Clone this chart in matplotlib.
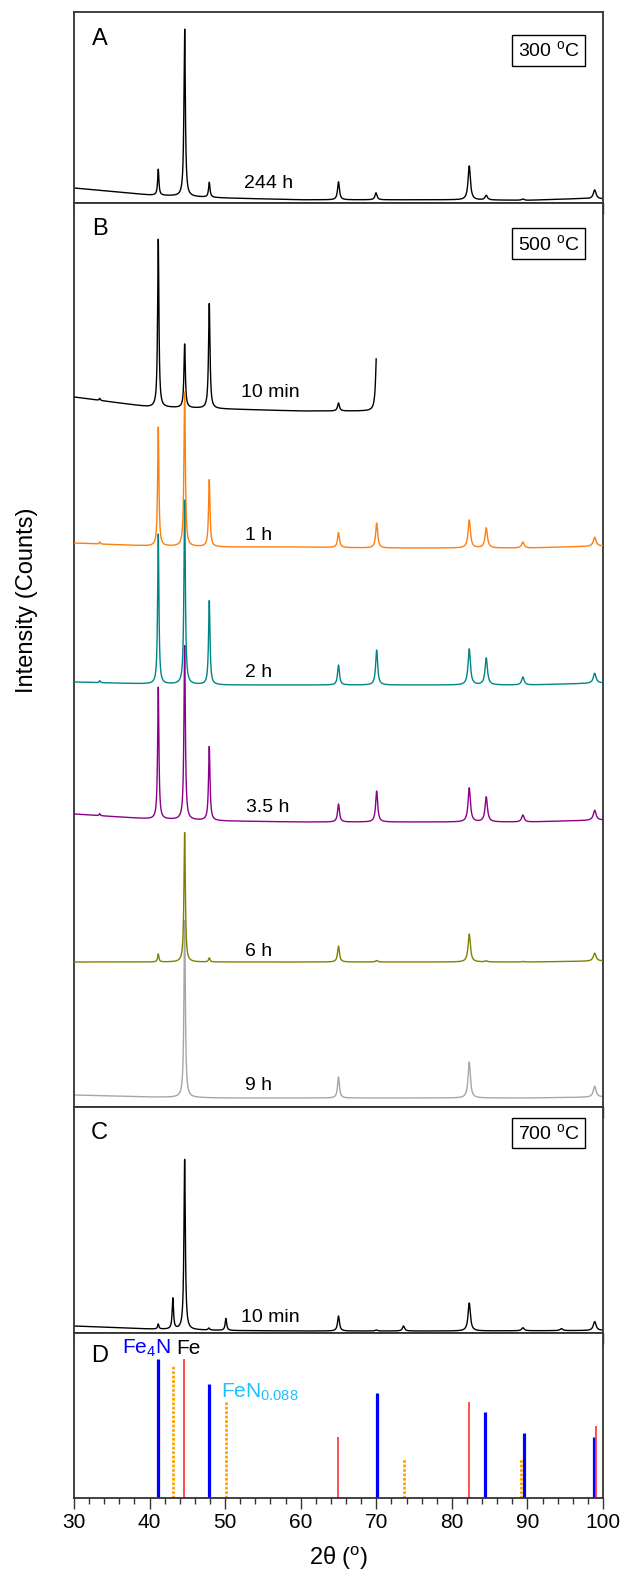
import numpy as np
import matplotlib
matplotlib.use("Agg")
import matplotlib.pyplot as plt

plt.rcParams['font.family'] = ['Liberation Sans', 'DejaVu Sans']
plt.rcParams['mathtext.fontset'] = 'custom'
plt.rcParams['mathtext.rm'] = 'Liberation Sans'
plt.rcParams['mathtext.it'] = 'Liberation Sans:italic'

# ---- diffraction data (2theta in degrees, intensity in counts, stacked offsets) ----
# A: 300 C, 244 h
a_base_x = [30, 40, 50, 60, 80, 90, 97, 100]
a_base_y = [15, 8, 5, 3.2, 3.2, 2.7, 4.4, 4.0]
a_pos = [41.15, 44.64, 47.9, 65.0, 69.96, 82.3, 84.55, 89.4, 98.9]
a_int = [26, 168, 15, 18, 7, 34, 4.6, 1.2, 9]

# B: 500 C time series
b_labels = ['10 min', '1 h', '2 h', '3.5 h', '6 h', '9 h']
b_colors = ['#000000', '#ff7f0e', '#008585', '#8b008b', '#808000', '#a6a6a6']
b_xmax = [70.0, 100, 100, 100, 100, 100]
b_base_x = [30, 40, 50, 60, 70, 80, 90, 100]
b_base_y = [
    [710, 700, 698, 696, 696, 696, 696, 696],
    [564, 561, 560, 560, 559, 559, 559, 561],
    [425, 423, 422, 422, 422, 422, 422, 424],
    [293, 288, 286, 285, 285, 285, 285, 287],
    [145, 145, 145, 145, 145, 145, 145, 146],
    [12, 10, 9, 9, 9, 9, 9, 10],
]
b_pos = [33.4, 41.15, 44.64, 47.9, 65.0, 70.05, 82.3, 84.55, 89.4, 98.9]
b_int = [
    [2, 168, 64, 105, 8, 60, 0, 0, 0, 0],
    [2, 119, 155, 67, 15, 25, 28, 20, 6, 9],
    [2, 150, 185, 84, 20, 35, 36, 27, 8, 10],
    [2, 132, 175, 74, 18, 31, 34, 25, 7, 10],
    [0, 8, 130, 4, 16, 1.5, 28, 1, 0.5, 8],
    [0, 0, 178, 0, 21, 0, 36, 0, 0, 11],
]

# C: 700 C, 10 min
c_base_x = [30, 40, 50, 60, 80, 100]
c_base_y = [7, 4, 2.5, 2, 2, 2.5]
c_pos = [41.15, 43.08, 44.64, 47.85, 50.1, 65.0, 70.0, 73.6, 82.3, 89.4, 94.5, 98.9]
c_int = [5, 31, 171, 2, 12, 15, 1, 5, 28, 3, 2, 9]

# D: reference patterns (relative intensity)
fe4n_pos = [41.15, 47.85, 70.05, 84.4, 89.5, 98.85]
fe4n_int = [100, 82, 76, 62, 47, 44]
fe_pos = [44.6, 64.95, 82.3, 99.05]
fe_int = [100, 44, 69, 52]
fen_pos = [43.1, 50.1, 73.65, 89.2]
fen_int = [96, 70, 29, 29]

tth = np.linspace(30, 100, 4001)


def pattern(base_x, base_y, pos, inten):
    y = np.interp(tth, base_x, base_y)
    for p, h in zip(pos, inten):
        w = 0.16 + 0.004 * (p - 30)
        y = y + h / (1 + ((tth - p) / (w / 2)) ** 2)
    return y


fig = plt.figure(figsize=(6.26, 15.74), dpi=100)
left, width = 74 / 626, 529 / 626
H = 1574
boxes = {'A': (12, 203), 'B': (203, 1107), 'C': (1107, 1333), 'D': (1333, 1498)}
letter_y = {'A': 0.86, 'B': 0.971, 'C': 0.886, 'D': 0.86}
axes = {}
for k, (t, b) in boxes.items():
    axes[k] = fig.add_axes([left, 1 - b / H, width, (b - t) / H])

for k, ax in axes.items():
    ax.set_xlim(30, 100)
    ax.set_xticks(np.arange(30, 101, 10))
    ax.set_xticks(np.arange(30, 101, 2), minor=True)
    ax.set_yticks([])
    ax.tick_params(axis='x', which='major', direction='out', length=8, width=1,
                   color='#333333', labelsize=15, pad=3)
    ax.tick_params(axis='x', which='minor', direction='out', length=4.5, width=1,
                   color='#333333')
    if k != 'D':
        ax.tick_params(axis='x', labelbottom=False)
    for s in ax.spines.values():
        s.set_linewidth(1.3)
        s.set_color('#333333')
    ax.text(33.4, letter_y[k], k, transform=ax.get_xaxis_transform(), fontsize=17,
            ha='center', va='center')

temp_box = dict(boxstyle='square,pad=0.28', fc='white', ec='black', lw=1)

# panel A
ax = axes['A']
ax.set_ylim(0, 191)
ax.plot(tth, pattern(a_base_x, a_base_y, a_pos, a_int), color='black', lw=1.0)
ax.text(55.8, 19, '244 h', fontsize=14, ha='center', va='center')
ax.text(92.8, 0.80, r'300 $^\mathrm{o}$C', transform=ax.get_xaxis_transform(),
        fontsize=14, ha='center', va='center', bbox=temp_box)

# panel B
ax = axes['B']
ax.set_ylim(0, 904)
zs = [3, 4, 5, 6, 7, 2]
label_y = [714, 571, 434, 299, 155, 22]
label_x = [56, 54.4, 54.4, 55.6, 54.4, 54.4]
for i, lab in enumerate(b_labels):
    y = pattern(b_base_x, b_base_y[i], b_pos, b_int[i])
    m = tth <= b_xmax[i]
    ax.plot(tth[m], y[m], color=b_colors[i], lw=1.0, zorder=zs[i])
    ax.text(label_x[i], label_y[i], lab, fontsize=14, ha='center', va='center', zorder=10)
ax.text(92.8, 0.955, r'500 $^\mathrm{o}$C', transform=ax.get_xaxis_transform(),
        fontsize=14, ha='center', va='center', bbox=temp_box)

# panel C
ax = axes['C']
ax.set_ylim(0, 226)
ax.plot(tth, pattern(c_base_x, c_base_y, c_pos, c_int), color='black', lw=1.0)
ax.text(56, 16, '10 min', fontsize=14, ha='center', va='center')
ax.text(92.8, 0.885, r'700 $^\mathrm{o}$C', transform=ax.get_xaxis_transform(),
        fontsize=14, ha='center', va='center', bbox=temp_box)

# panel D: stick patterns
ax = axes['D']
ax.set_ylim(0, 119)
ax.vlines(fe4n_pos, 0, fe4n_int, color='#0000ff', lw=2.3)
ax.vlines(fe_pos, 0, fe_int, color='#ff4040', lw=1.3)
ax.vlines(fen_pos, 0, fen_int, color='#ffa500', lw=2.0, linestyles=(0, (1, 0.6)))
ax.text(39.6, 0.905, r'Fe$_4$N', transform=ax.get_xaxis_transform(), color='#0000ff',
        fontsize=15, ha='center', va='center')
ax.text(45.2, 0.905, 'Fe', transform=ax.get_xaxis_transform(), color='black',
        fontsize=15, ha='center', va='center')
ax.text(49.5, 0.64, r'FeN$_{0.088}$', transform=ax.get_xaxis_transform(), color='#1ec0ff',
        fontsize=15, ha='left', va='center')
ax.set_xlabel(r'2θ ($^\mathrm{o}$)', fontsize=17, labelpad=9)

fig.text(0.043, 1 - 600 / H, 'Intensity (Counts)', rotation=90, fontsize=17,
         ha='center', va='center')

fig.savefig('out.png', dpi=100)
